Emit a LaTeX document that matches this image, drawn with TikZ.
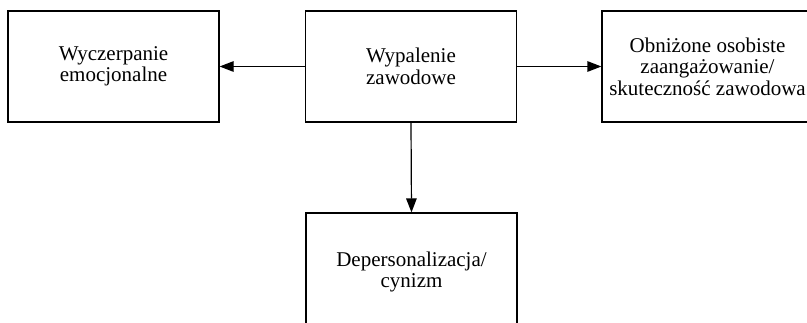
\documentclass[tikz,border=0pt]{standalone}
\usepackage{fontspec}
\setmainfont{Liberation Serif}
\usetikzlibrary{arrows.meta}
\begin{document}
\begin{tikzpicture}[x=1pt,y=-1pt,
  box/.style={draw=black,line width=1.2pt,rectangle,inner sep=0pt,
    minimum width=211pt,minimum height=111pt,align=center,
    font=\fontsize{21}{21.5}\selectfont},
  conn/.style={line width=1.2pt,-{Triangle[length=14pt,width=10.5pt]}}]
\useasboundingbox (0,0) rectangle (807,322);
\node[box] (b1) at (113.5,66.5) {Wyczerpanie\\emocjonalne};
\node[box] (b2) at (411,66.5) {Wypalenie\\zawodowe};
\node[box] (b3) at (707.5,66.5) {Obniżone osobiste\\zaangażowanie/\\skuteczność zawodowa};
\node[box,minimum height=118pt] (b4) at (411.5,272) {Depersonalizacja/\\cynizm};
\draw[conn] (b2.west) -- (b1.east);
\draw[conn] (b2.east) -- (b3.west);
\draw[conn] (b2.south) -- (b4.north);
\end{tikzpicture}
\end{document}
